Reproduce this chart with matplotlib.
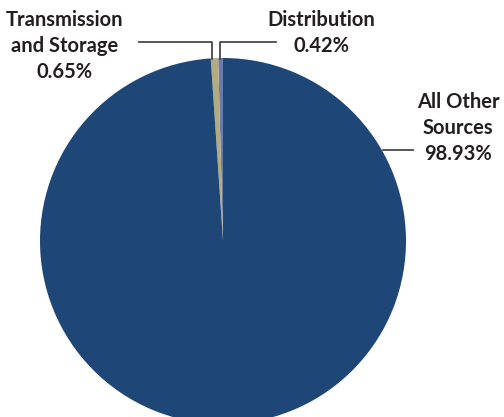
import matplotlib
matplotlib.use("Agg")
import matplotlib.pyplot as plt

labels = ["Distribution", "Transmission\nand Storage", "All Other\nSources"]
values = [0.42, 0.65, 98.93]
colors = ["#6a7aaa", "#b3ab80", "#1e4677"]

W, H = 504, 417
fig = plt.figure(figsize=(5.04, 4.17), dpi=100)
ax = fig.add_axes([0, 0, 1, 1])

cx, cy, r = 223, H - 241, 183
ax.pie(values, colors=colors, startangle=90, counterclock=True,
       center=(cx, cy), radius=r, frame=True,
       wedgeprops=dict(linewidth=0))
ax.set_xlim(0, W)
ax.set_ylim(0, H)
ax.set_aspect("equal")
ax.axis("off")

tc = "#231f20"
fp = dict(fontsize=14.5, fontweight="bold", color=tc, family="Lato",
          ha="center", va="center", linespacing=1.4)
ax.text(65, H - 46, f"{labels[1]}\n{values[1]:.2f}%", **fp)
ax.text(321, H - 33, f"{labels[0]}\n{values[0]:.2f}%", **fp)
ax.text(458, H - 128, f"{labels[2]}\n{values[2]:.2f}%", **fp)

lc = "#3a3a3a"
ax.plot([139, 212, 212], [H - 42, H - 42, H - 59], color=lc, lw=1.2)
ax.plot([276, 220, 220], [H - 42, H - 42, H - 59], color=lc, lw=1.2)
ax.plot([383, 413], [H - 150, H - 150], color=lc, lw=1.2)

fig.savefig("out.png", dpi=100)
